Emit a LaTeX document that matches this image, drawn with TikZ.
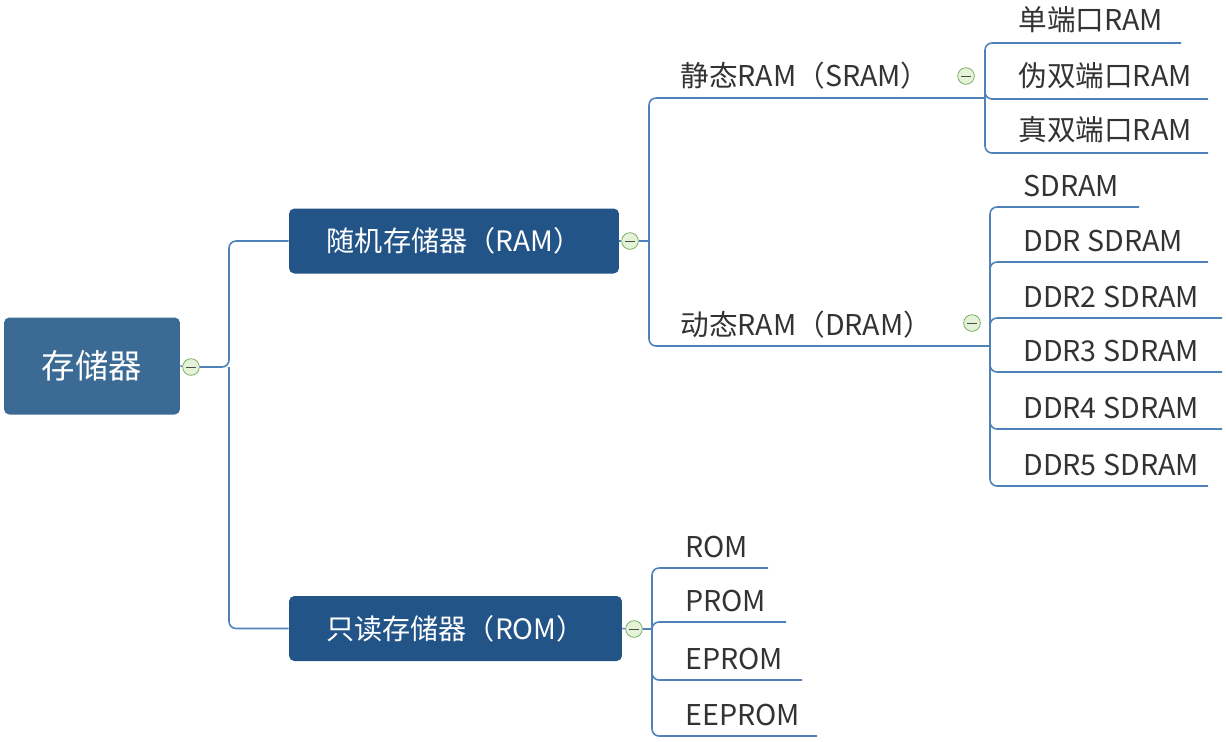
\documentclass[tikz,border=0pt]{standalone}
\usepackage{fontspec}
\setmainfont{Noto Sans CJK SC}
\usetikzlibrary{positioning}
\definecolor{rootblue}{HTML}{3B6B94}
\definecolor{boxblue}{HTML}{235487}
\definecolor{linkblue}{HTML}{4F82B8}
\definecolor{knobgreen}{HTML}{E4F2D8}
\definecolor{knobedge}{HTML}{6FA85A}
\tikzset{
  root/.style = {rectangle, rounded corners = 3pt, fill = rootblue, text = white,
                 font = \fontsize{19}{21}\selectfont, inner sep = 0pt},
  topic/.style = {rectangle, rounded corners = 3pt, fill = boxblue, text = white,
                  font = \fontsize{16}{18}\selectfont, inner sep = 0pt},
  leaf/.style = {anchor = west, inner sep = 0pt, text = black!80,
                 font = \fontsize{16.3}{18}\selectfont},
  link/.style = {draw = linkblue, line width = 0.9pt, rounded corners = 4pt},
  knob/.style = {circle, draw = knobedge, fill = knobgreen, minimum size = 9.5pt, inner sep = 0pt,
                 path picture = {\draw[black!70, line width = 0.5pt]
                   ([xshift = 2pt]path picture bounding box.west) --
                   ([xshift = -2pt]path picture bounding box.east);}}
}
\begin{document}
\begin{tikzpicture}[x = 0.02cm, y = -0.02cm]

    \useasboundingbox (0,0) rectangle (1226,741);

    % main topics
    \node (mem) [root, minimum width = 3.52cm, minimum height = 1.94cm] at (92,366) {存储器};
    \node (ram) [topic, minimum width = 6.6cm, minimum height = 1.3cm] at (454,241) {随机存储器（RAM）};
    \node (rom) [topic, minimum width = 6.66cm, minimum height = 1.3cm] at (455.5,628.5) {只读存储器（ROM）};

    \node (memK) [knob] at (191,367) {};
    \node (ramK) [knob] at (630,241) {};
    \node (romK) [knob] at (634,629) {};

    \coordinate (memJ) at (229,367);
    \coordinate (ramJ) at (649,241);
    \coordinate (romJ) at (652,629);

    \draw[link] (mem.east) -- (memK);
    \draw[link] (memK) -- (memJ) |- (ram.west);
    \draw[link] (memJ) |- (rom.west);
    \draw[link] (ram.east) -- (ramK) -- (ramJ);
    \draw[link] (rom.east) -- (romK) -- (romJ);

    % RAM branch
    \node (sram) [leaf] at (680,76) {静态RAM（SRAM）};
    \node (dram) [leaf] at (680,325) {动态RAM（DRAM）};
    \node (sramK) [knob] at (966,76) {};
    \node (dramK) [knob] at (972,323) {};
    \coordinate (sramE) at (985,98);
    \coordinate (dramE) at (990,346);
    \draw[link] (ramJ) |- (sramE);
    \draw[link] (ramJ) |- (dramE);

    % SRAM leaves
    \foreach \name/\txt/\y/\len in {sp/单端口RAM/20/1181, pd/伪双端口RAM/76/1208, td/真双端口RAM/130/1208} {
        \node (\name) [leaf] at (1018,\y) {\txt};
        \coordinate (\name E) at (\len,\y+23);
        \draw[link] (sramE) |- (\name E);
    }

    % DRAM leaves
    \foreach \name/\txt/\y/\len in {sd/SDRAM/186/1139, d1/DDR SDRAM/241/1208, d2/DDR2 SDRAM/297/1222,
                                   d3/DDR3 SDRAM/351/1222, d4/DDR4 SDRAM/408/1222, d5/DDR5 SDRAM/465/1208} {
        \node (\name) [leaf] at (1023,\y) {\txt};
        \coordinate (\name E) at (\len,\y+21);
        \draw[link] (dramE) |- (\name E);
    }

    % ROM leaves
    \foreach \name/\txt/\y/\len in {r0/ROM/547/768, r1/PROM/601/786, r2/EPROM/659/802, r3/EEPROM/715/817} {
        \node (\name) [leaf] at (685,\y) {\txt};
        \coordinate (\name E) at (\len,\y+21);
        \draw[link] (romJ) |- (\name E);
    }

\end{tikzpicture}
\end{document}
